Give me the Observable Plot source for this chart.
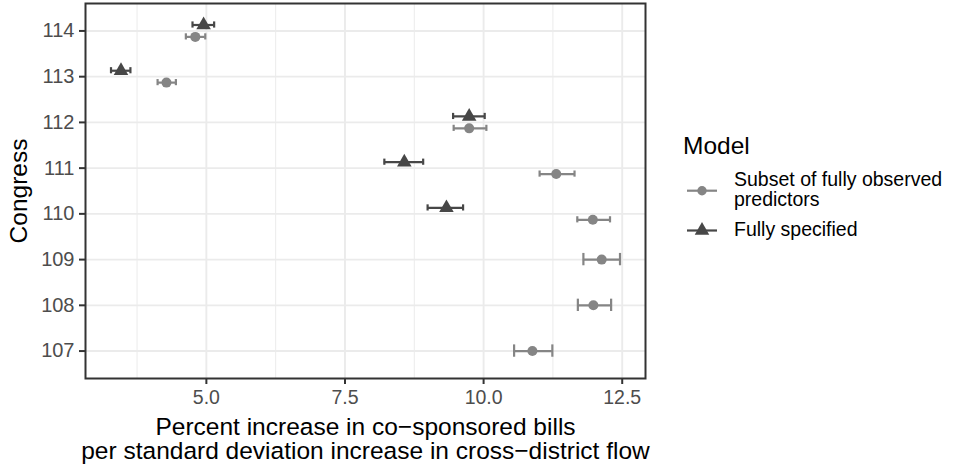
<!DOCTYPE html>
<html><head><meta charset="utf-8">
<script src="https://cdn.jsdelivr.net/npm/d3@7"></script>
<script src="https://cdn.jsdelivr.net/npm/@observablehq/plot@0.6"></script>
<style>
body{margin:0;background:#fff;}
#chart{width:956px;height:469px;}
</style>
</head><body><div id="chart"></div>
<script>
// ---- data ----
const models = ["Subset of fully observed\npredictors", "Fully specified"];
const modelColors = ["#858585", "#474747"];

const subsetCongress = [107, 108, 109, 110, 111, 112, 113, 114];
const subsetEst = [10.88, 11.98, 12.13, 11.97, 11.31, 9.74, 4.28, 4.80];
const subsetLo  = [10.55, 11.70, 11.80, 11.69, 11.01, 9.46, 4.12, 4.63];
const subsetHi  = [11.24, 12.30, 12.46, 12.28, 11.64, 10.05, 4.45, 4.98];

const fullCongress = [110, 111, 112, 113, 114];
const fullEst = [9.33, 8.57, 9.74, 3.46, 4.95];
const fullLo  = [8.99, 8.21, 9.45, 3.28, 4.75];
const fullHi  = [9.63, 8.91, 10.02, 3.63, 5.14];

const xTicks = [5, 7.5, 10, 12.5];
const xMinor = [3.75, 6.25, 8.75, 11.25];
const yTicks = [107, 108, 109, 110, 111, 112, 113, 114];
const xTitle = "Percent increase in co\u2212sponsored bills\nper standard deviation increase in cross\u2212district flow";
const yTitle = "Congress";
const legendTitle = "Model";

// ---- build rows with dodge ----
const rows = [];
subsetCongress.forEach((c, i) => rows.push({congress: c, model: 0, est: subsetEst[i], lo: subsetLo[i], hi: subsetHi[i]}));
fullCongress.forEach((c, i) => rows.push({congress: c, model: 1, est: fullEst[i], lo: fullLo[i], hi: fullHi[i]}));
const counts = d3.rollup(rows, v => v.length, d => d.congress);
const dodge = 0.13, capW = 0.135;
rows.forEach(d => {
  const n = counts.get(d.congress);
  d.y = d.congress + (n === 2 ? (d.model === 0 ? -dodge : dodge) : 0);
  d.cap = capW / n;
});
const colorOf = d => modelColors[d.model];

const font = "'Liberation Sans', Arial, Helvetica, sans-serif";

const plot = Plot.plot({
  width: 956, height: 469,
  marginLeft: 85, marginRight: 311, marginTop: 3, marginBottom: 91,
  style: {fontFamily: font, background: "#fff", overflow: "visible"},
  x: {domain: [2.82, 12.92]},
  y: {domain: [106.4, 114.6]},
  marks: [
    Plot.gridX(xMinor, {stroke: "#ebebeb", strokeOpacity: 1, strokeWidth: 1}),
    Plot.gridX(xTicks, {stroke: "#ebebeb", strokeOpacity: 1, strokeWidth: 1.9}),
    Plot.gridY(yTicks, {stroke: "#ebebeb", strokeOpacity: 1, strokeWidth: 1.9}),
    Plot.ruleY(rows, {y: "y", x1: "lo", x2: "hi", stroke: colorOf, strokeWidth: 2.2}),
    Plot.ruleX(rows, {x: "lo", y1: d => d.y - d.cap, y2: d => d.y + d.cap, stroke: colorOf, strokeWidth: 2.2}),
    Plot.ruleX(rows, {x: "hi", y1: d => d.y - d.cap, y2: d => d.y + d.cap, stroke: colorOf, strokeWidth: 2.2}),
    Plot.dot(rows.filter(d => d.model === 0), {x: "est", y: "y", r: 5, fill: colorOf, stroke: "none", symbol: "circle"}),
    Plot.dot(rows.filter(d => d.model === 1), {x: "est", y: "y", r: 5.4, fill: colorOf, stroke: "none", symbol: "triangle"}),
    Plot.frame({stroke: "#333", strokeWidth: 2}),
    Plot.axisX(xTicks, {tickFormat: d3.format(".1f"), tickSize: 6, tickPadding: 6, fontSize: 19.5, fill: "#4d4d4d", stroke: "#333", strokeWidth: 2, label: null}),
    Plot.axisY(yTicks, {tickFormat: d3.format("d"), tickSize: 6, tickPadding: 5, fontSize: 20, fill: "#4d4d4d", stroke: "#333", strokeWidth: 2, label: null}),
    Plot.text([xTitle], {frameAnchor: "bottom", dy: 39, lineAnchor: "top", textAnchor: "middle", fontSize: 24.5, lineHeight: 1.0, fill: "#000"}),
    Plot.text([yTitle], {frameAnchor: "left", dx: -66, rotate: -90, textAnchor: "middle", lineAnchor: "middle", fontSize: 24.5, fill: "#000"})
  ]
});
document.getElementById("chart").appendChild(plot);

// ---- legend ----
const svg = d3.select(plot);
const lg = svg.append("g").attr("font-family", font).attr("text-anchor", "start");
lg.append("text").attr("x", 683).attr("y", 154).attr("font-size", 24.5).attr("fill", "#000").text(legendTitle);
const keyY = [190.7, 230.5];
const textY = [[186, 206], [236]];
models.forEach((m, i) => {
  lg.append("line").attr("x1", 687).attr("x2", 717).attr("y1", keyY[i]).attr("y2", keyY[i])
    .attr("stroke", modelColors[i]).attr("stroke-width", 2.2);
  lg.append("path").attr("transform", `translate(702,${keyY[i]})`)
    .attr("d", d3.symbol(i === 0 ? d3.symbolCircle : d3.symbolTriangle, i === 0 ? Math.PI * 4.7 * 4.7 : Math.PI * 5.4 * 5.4)())
    .attr("fill", modelColors[i]);
  m.split("\n").forEach((line, j) => {
    lg.append("text").attr("x", 734).attr("y", textY[i][j]).attr("font-size", 19.5).attr("fill", "#000").text(line);
  });
});
</script>
</body></html>
